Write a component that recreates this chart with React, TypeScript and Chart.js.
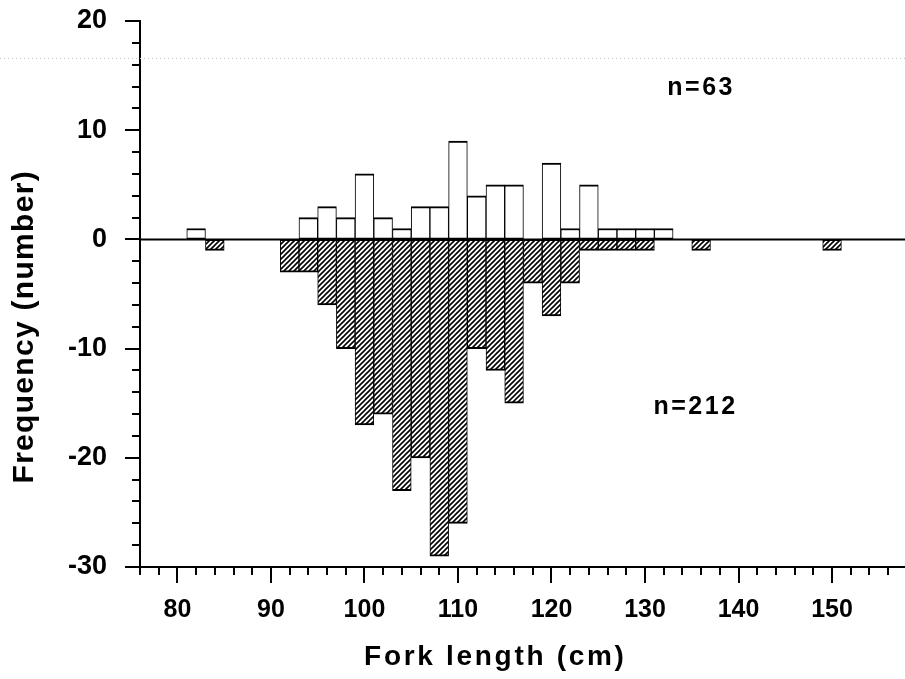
import React, { useEffect, useRef } from "react";
import { Chart, registerables } from "chart.js";

Chart.register(...registerables);

// Bin centres of the 2-cm fork-length classes (cm)
const BIN_CENTERS = [
  82, 84, 86, 88, 90, 92, 94, 96, 98, 100, 102, 104, 106, 108, 110, 112, 114,
  116, 118, 120, 122, 124, 126, 128, 130, 132, 134, 136, 138, 140, 142, 144,
  146, 148, 150,
];
// Upper sample (open bars), n=63
const COUNT_UPPER = [
  1, 0, 0, 0, 0, 0, 2, 3, 2, 6, 2, 1, 3, 3, 9, 4, 5,
  5, 0, 7, 1, 5, 1, 1, 1, 1, 0, 0, 0, 0, 0, 0,
  0, 0, 0,
];
// Lower sample (hatched bars, plotted downward), n=212
const COUNT_LOWER = [
  0, -1, 0, 0, 0, -3, -3, -6, -10, -17, -16, -23, -20, -29, -26, -10, -12,
  -15, -4, -7, -4, -1, -1, -1, -1, 0, 0, -1, 0, 0, 0, 0,
  0, 0, -1,
];

const X_MIN = 76;
const X_MAX = 157.8;
const X_TICK_STEP = 2;
const X_LABELS = [80, 90, 100, 110, 120, 130, 140, 150];
const Y_MIN = -30;
const Y_MAX = 20;
const Y_TICK_STEP = 2;
const Y_LABELS = [-30, -20, -10, 0, 10, 20];

const X_TITLE = "Fork length (cm)";
const Y_TITLE = "Frequency (number)";
const N_TEXTS = ["n=63", "n=212"];
const N_X = [136, 135.4];
const N_Y = [13.2, -16];
const X_TITLE_CENTER = 114;
const Y_TITLE_CENTER = -8;
const SCAN_LINE_VALUE = 16.65;

const FONT = "'Liberation Sans', Arial, Helvetica, sans-serif";

function stepValues(min: number, max: number, step: number) {
  const out: number[] = [];
  for (let v = min; v <= max + 1e-9; v += step) out.push(v);
  return out;
}

export default function App() {
  const ref = useRef<HTMLCanvasElement | null>(null);

  useEffect(() => {
    const canvas = ref.current;
    if (!canvas) return;
    const ctx0 = canvas.getContext("2d")!;

    const tile = document.createElement("canvas");
    tile.width = 5;
    tile.height = 5;
    const g = tile.getContext("2d")!;
    g.fillStyle = "#ffffff";
    g.fillRect(0, 0, 5, 5);
    g.strokeStyle = "#000000";
    g.lineWidth = 1.6;
    g.beginPath();
    g.moveTo(0, 5);
    g.lineTo(5, 0);
    g.moveTo(-1, 1);
    g.lineTo(1, -1);
    g.moveTo(4, 6);
    g.lineTo(6, 4);
    g.stroke();
    const hatch = ctx0.createPattern(tile, "repeat")!;

    const xTickValues = stepValues(X_MIN, X_MAX, X_TICK_STEP);
    const yTickValues = stepValues(Y_MIN, Y_MAX, Y_TICK_STEP);

    const upper = BIN_CENTERS.map((c, i) => ({ x: c, y: COUNT_UPPER[i] === 0 ? null : COUNT_UPPER[i] }));
    const lower = BIN_CENTERS.map((c, i) => ({ x: c, y: COUNT_LOWER[i] === 0 ? null : COUNT_LOWER[i] }));

    const decor = {
      id: "decor",
      beforeDatasetsDraw(chart: any) {
        const { ctx, scales } = chart;
        const yy = scales.y.getPixelForValue(SCAN_LINE_VALUE);
        ctx.save();
        ctx.strokeStyle = "#c4c4c4";
        ctx.lineWidth = 1;
        ctx.setLineDash([1, 3]);
        ctx.beginPath();
        ctx.moveTo(0, Math.round(yy) + 0.5);
        ctx.lineTo(chart.width, Math.round(yy) + 0.5);
        ctx.stroke();
        ctx.restore();
      },
      afterDatasetsDraw(chart: any) {
        const { ctx, chartArea, scales } = chart;
        const y0 = scales.y.getPixelForValue(0);
        ctx.save();
        ctx.strokeStyle = "#000";
        ctx.lineWidth = 2;
        ctx.beginPath();
        ctx.moveTo(chartArea.left, y0);
        ctx.lineTo(chartArea.right, y0);
        ctx.stroke();
        ctx.restore();
      },
      afterDraw(chart: any) {
        const { ctx, chartArea, scales } = chart;
        const xs = scales.x;
        const ys = scales.y;
        ctx.save();
        ctx.strokeStyle = "#000";
        ctx.lineWidth = 2;
        ctx.beginPath();
        for (const v of yTickValues) {
          const p = Math.round(ys.getPixelForValue(v));
          const len = Y_LABELS.includes(v) ? 15 : 8;
          ctx.moveTo(chartArea.left - len, p);
          ctx.lineTo(chartArea.left, p);
        }
        for (const v of xTickValues) {
          const p = Math.round(xs.getPixelForValue(v));
          const len = X_LABELS.includes(v) ? 16 : 8;
          ctx.moveTo(p, chartArea.bottom);
          ctx.lineTo(p, chartArea.bottom + len);
        }
        ctx.stroke();

        ctx.fillStyle = "#000";
        // x title
        ctx.font = `bold 28px ${FONT}`;
        (ctx as any).letterSpacing = "2.7px";
        ctx.textAlign = "center";
        ctx.textBaseline = "alphabetic";
        ctx.fillText(X_TITLE, xs.getPixelForValue(X_TITLE_CENTER), chartArea.bottom + 98);
        // y title
        ctx.save();
        ctx.font = `bold 30px ${FONT}`;
        (ctx as any).letterSpacing = "1.3px";
        ctx.translate(chartArea.left - 107, ys.getPixelForValue(Y_TITLE_CENTER));
        ctx.rotate(-Math.PI / 2);
        ctx.fillText(Y_TITLE, 0, 0);
        ctx.restore();
        // n labels
        ctx.font = `bold 25px ${FONT}`;
        (ctx as any).letterSpacing = "2.5px";
        N_TEXTS.forEach((t, i) => {
          ctx.fillText(t, xs.getPixelForValue(N_X[i]), ys.getPixelForValue(N_Y[i]));
        });
        ctx.restore();
      },
    };

    const chart = new Chart(canvas, {
      type: "bar",
      data: {
        datasets: [
          {
            label: "upper",
            data: upper as any,
            backgroundColor: "#ffffff",
            borderColor: "#000000",
            borderWidth: { top: 2, bottom: 2, left: 1, right: 1 } as any,
            borderSkipped: false,
            barPercentage: 1,
            categoryPercentage: 1,
            stack: "s",
          },
          {
            label: "lower",
            data: lower as any,
            backgroundColor: hatch as any,
            borderColor: "#000000",
            borderWidth: { top: 2, bottom: 2, left: 1, right: 1 } as any,
            borderSkipped: false,
            barPercentage: 1,
            categoryPercentage: 1,
            stack: "s",
          },
        ],
      },
      options: {
        animation: false,
        responsive: false,
        maintainAspectRatio: false,
        events: [],
        layout: { padding: { top: 21, right: 0, bottom: 0, left: 0 } },
        plugins: {
          legend: { display: false },
          tooltip: { enabled: false },
          title: { display: false },
        },
        scales: {
          x: {
            type: "linear",
            min: X_MIN,
            max: X_MAX,
            offset: false,
            afterBuildTicks: (scale: any) => {
              scale.ticks = xTickValues.map((v) => ({ value: v }));
            },
            afterFit: (scale: any) => {
              scale.height = 112;
              scale.paddingLeft = 0;
              scale.paddingRight = 0;
            },
            grid: { display: false, drawTicks: false },
            border: { display: true, color: "#000", width: 2 },
            ticks: {
              autoSkip: false,
              maxRotation: 0,
              minRotation: 0,
              padding: 28,
              color: "#000",
              font: { family: FONT, size: 25, weight: "bold" },
              callback: (v: any) => (X_LABELS.includes(Number(v)) ? String(v) : ""),
            },
          },
          y: {
            type: "linear",
            min: Y_MIN,
            max: Y_MAX,
            afterFit: (scale: any) => {
              scale.width = 140;
              scale.paddingTop = 0;
              scale.paddingBottom = 0;
            },
            grid: { display: false, drawTicks: false },
            border: { display: true, color: "#000", width: 2 },
            ticks: {
              stepSize: Y_TICK_STEP,
              autoSkip: false,
              padding: 33,
              color: "#000",
              font: { family: FONT, size: 27, weight: "bold" },
              callback: (v: any) => (Y_LABELS.includes(Number(v)) ? String(v) : ""),
            },
          },
        },
      },
      plugins: [decor],
    });

    return () => chart.destroy();
  }, []);

  return (
    <div style={{ position: "absolute", left: 0, top: 0, width: 905, height: 679, background: "#fff" }}>
      <canvas ref={ref} width={905} height={679} style={{ display: "block" }} />
    </div>
  );
}
